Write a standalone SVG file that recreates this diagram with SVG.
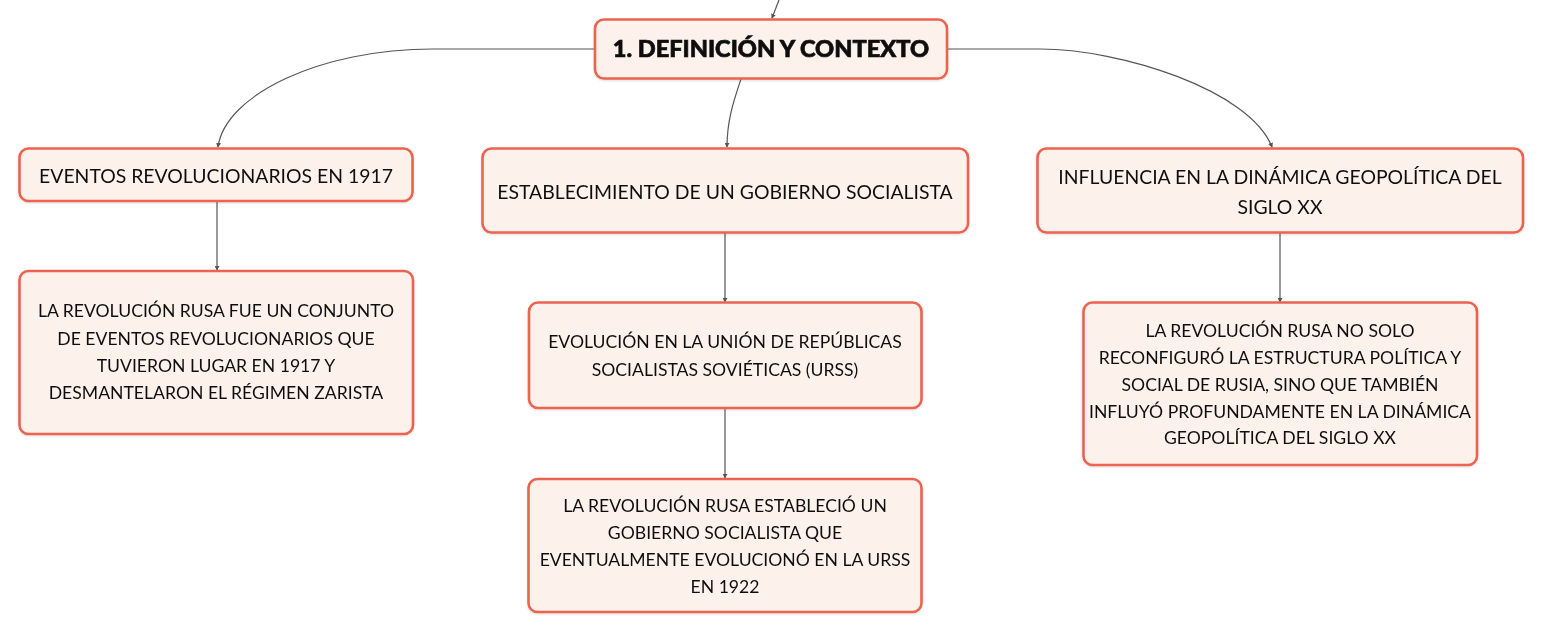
<svg xmlns="http://www.w3.org/2000/svg" width="1543" height="634" viewBox="0 0 1543 634">
<defs>
<marker id="arr" viewBox="0 0 6 6" refX="5" refY="3" markerWidth="5" markerHeight="5" orient="auto" markerUnits="userSpaceOnUse">
<path d="M0,0 L6,3 L0,6 z" fill="#555"/>
</marker>
<filter id="sh" x="-5%" y="-10%" width="110%" height="120%">
<feGaussianBlur in="SourceAlpha" stdDeviation="1"/>
<feOffset dx="0" dy="1"/>
<feComponentTransfer><feFuncA type="linear" slope="0.15"/></feComponentTransfer>
<feMerge><feMergeNode/><feMergeNode in="SourceGraphic"/></feMerge>
</filter>
</defs>
<style>
.box{fill:#FDF1EC;stroke:#EC6350;stroke-width:2.6}
.t{font-family:Lato,"Noto Sans","DejaVu Sans",sans-serif;fill:#111;text-anchor:middle;dominant-baseline:central}
.title{font-size:23.6px;font-weight:900;stroke:#111;stroke-width:0.7}
.l1{font-size:19.4px}
.b{font-size:17.6px}
.c{fill:none;stroke:#555;stroke-width:1.2}
</style>
<rect width="1543" height="634" fill="#fff"/>
<g id="connectors">
<path class="c" d="M779,0 L772,18" marker-end="url(#arr)"/>
<path class="c" d="M595,49 L433,49 C320,49 225,95 218,147" marker-end="url(#arr)"/>
<path class="c" d="M948,49 L1040,49 C1120,49 1250,90 1272,147" marker-end="url(#arr)"/>
<path class="c" d="M741,79 C734,100 727,120 727,147" marker-end="url(#arr)"/>
<path class="c" d="M217,201 L217,270" marker-end="url(#arr)"/>
<path class="c" d="M725,233 L725,302" marker-end="url(#arr)"/>
<path class="c" d="M725,408 L725,478" marker-end="url(#arr)"/>
<path class="c" d="M1280,233 L1280,302" marker-end="url(#arr)"/>
</g>
<g id="n-root" filter="url(#sh)">
<rect class="box" x="595" y="19.5" width="352" height="59" rx="9"/>
<text class="t title" x="771" y="48">1. DEFINICIÓN Y CONTEXTO</text>
</g>
<g id="n-eventos" filter="url(#sh)">
<rect class="box" x="19.5" y="148.5" width="393" height="52.5" rx="9"/>
<text class="t l1" x="216" y="175">EVENTOS REVOLUCIONARIOS EN 1917</text>
</g>
<g id="n-establecimiento" filter="url(#sh)">
<rect class="box" x="482.5" y="148.5" width="485.5" height="84" rx="9"/>
<text class="t l1" x="725" y="191.5">ESTABLECIMIENTO DE UN GOBIERNO SOCIALISTA</text>
</g>
<g id="n-influencia" filter="url(#sh)">
<rect class="box" x="1037.5" y="148.5" width="485.5" height="84" rx="9"/>
<text class="t l1" x="1280" y="176.5">INFLUENCIA EN LA DINÁMICA GEOPOLÍTICA DEL</text>
<text class="t l1" x="1280" y="206.5">SIGLO XX</text>
</g>
<g id="n-eventos-det" filter="url(#sh)">
<rect class="box" x="19.5" y="271" width="393.5" height="163" rx="9"/>
<text class="t b" x="216" y="310.5">LA REVOLUCIÓN RUSA FUE UN CONJUNTO</text>
<text class="t b" x="216" y="338">DE EVENTOS REVOLUCIONARIOS QUE</text>
<text class="t b" x="216" y="365.5">TUVIERON LUGAR EN 1917 Y</text>
<text class="t b" x="216" y="392.5">DESMANTELARON EL RÉGIMEN ZARISTA</text>
</g>
<g id="n-evolucion" filter="url(#sh)">
<rect class="box" x="529" y="302.5" width="392.5" height="105.5" rx="9"/>
<text class="t b" x="725" y="341.5">EVOLUCIÓN EN LA UNIÓN DE REPÚBLICAS</text>
<text class="t b" x="725" y="369">SOCIALISTAS SOVIÉTICAS (URSS)</text>
</g>
<g id="n-evolucion-det" filter="url(#sh)">
<rect class="box" x="528.5" y="479" width="393" height="133" rx="9"/>
<text class="t b" x="725" y="505">LA REVOLUCIÓN RUSA ESTABLECIÓ UN</text>
<text class="t b" x="725" y="532">GOBIERNO SOCIALISTA QUE</text>
<text class="t b" x="725" y="559">EVENTUALMENTE EVOLUCIONÓ EN LA URSS</text>
<text class="t b" x="725" y="586">EN 1922</text>
</g>
<g id="n-influencia-det" filter="url(#sh)">
<rect class="box" x="1083.5" y="302.5" width="393.5" height="162.5" rx="9"/>
<text class="t b" x="1280" y="330">LA REVOLUCIÓN RUSA NO SOLO</text>
<text class="t b" x="1280" y="357.5">RECONFIGURÓ LA ESTRUCTURA POLÍTICA Y</text>
<text class="t b" x="1280" y="384.5">SOCIAL DE RUSIA, SINO QUE TAMBIÉN</text>
<text class="t b" x="1280" y="411">INFLUYÓ PROFUNDAMENTE EN LA DINÁMICA</text>
<text class="t b" x="1280" y="437.5">GEOPOLÍTICA DEL SIGLO XX</text>
</g>
</svg>
